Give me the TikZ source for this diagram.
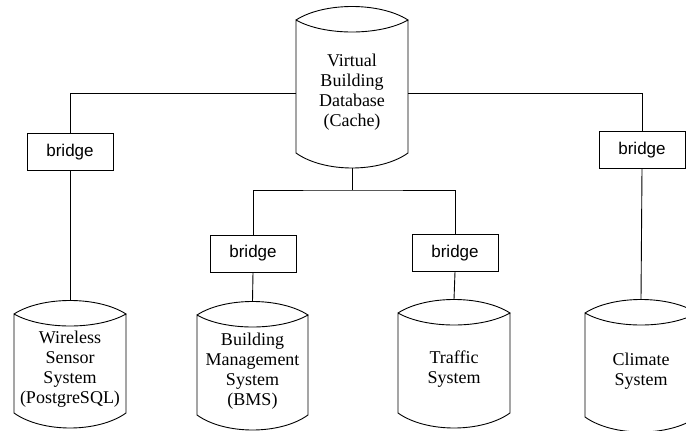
\documentclass[tikz,border=0pt]{standalone}
\usepackage{fontspec}
\setmainfont{Liberation Serif}
\newfontfamily\bridgefont{Liberation Sans}
\newcommand\dbcyl[6]{% name L R T B text
  \draw (#2,#4) .. controls ({#2+(#3-#2)/4},{#4-18}) and ({#3-(#3-#2)/4},{#4-18}) .. (#3,#4)
        .. controls ({#3-(#3-#2)/4},{#4+16}) and ({#2+(#3-#2)/4},{#4+16}) .. (#2,#4) -- (#2,#5)
        .. controls ({#2+(#3-#2)/4},{#5+20}) and ({#3-(#3-#2)/4},{#5+20}) .. (#3,#5) -- (#3,#4);
  \node[dblabel] (#1) at ({(#2+#3)/2},{(#4+12+#5)/2}) {#6};
  \coordinate (#1-top) at ({(#2+#3)/2},{#4-13.5});
  \coordinate (#1-bot) at ({(#2+#3)/2},{#5+15});
}
\begin{document}
\begin{tikzpicture}[x=1pt,y=-1pt,line width=0.9pt,
  bridgebox/.style={draw, rectangle, minimum width=86pt, minimum height=37pt, inner sep=0pt,
    font=\bridgefont\fontsize{17}{19}\selectfont},
  dblabel/.style={align=center, inner sep=0pt, font=\fontsize{18}{20}\selectfont}]
\useasboundingbox (0,0) rectangle (686,431);

% cylinders
\dbcyl{vb}{296}{408}{20}{153}{Virtual\\Building\\Database\\(Cache)}
\dbcyl{ws}{14}{126}{314}{413}{Wireless\\Sensor\\System\\(PostgreSQL)}
\dbcyl{bms}{197}{308}{315}{415}{Building\\Management\\System\\(BMS)}
\dbcyl{tr}{398}{510}{313}{413}{Traffic\\System}
\dbcyl{cl}{585}{697}{313}{417}{Climate\\System}

% bridges
\node[bridgebox] (bl) at (70,152) {bridge};
\node[bridgebox] (br) at (642,150) {bridge};
\node[bridgebox] (bm) at (253,253.5) {bridge};
\node[bridgebox] (bt) at (455,253) {bridge};

% connectors
\coordinate (vbw) at (296,93);
\coordinate (vbe) at (408,93);
\coordinate (j) at (352,190);
\draw (bl.north) |- (vbw);
\draw (br.north) |- (vbe);
\draw (bl.south) -- (ws-top);
\draw (br.south) -- (cl-top);
\draw (vb-bot) -- (j);
\draw (bm.north) |- (j) -| (bt.north);
\draw (bm.south) -- (bms-top);
\draw (bt.south) -- (tr-top);
\end{tikzpicture}
\end{document}
